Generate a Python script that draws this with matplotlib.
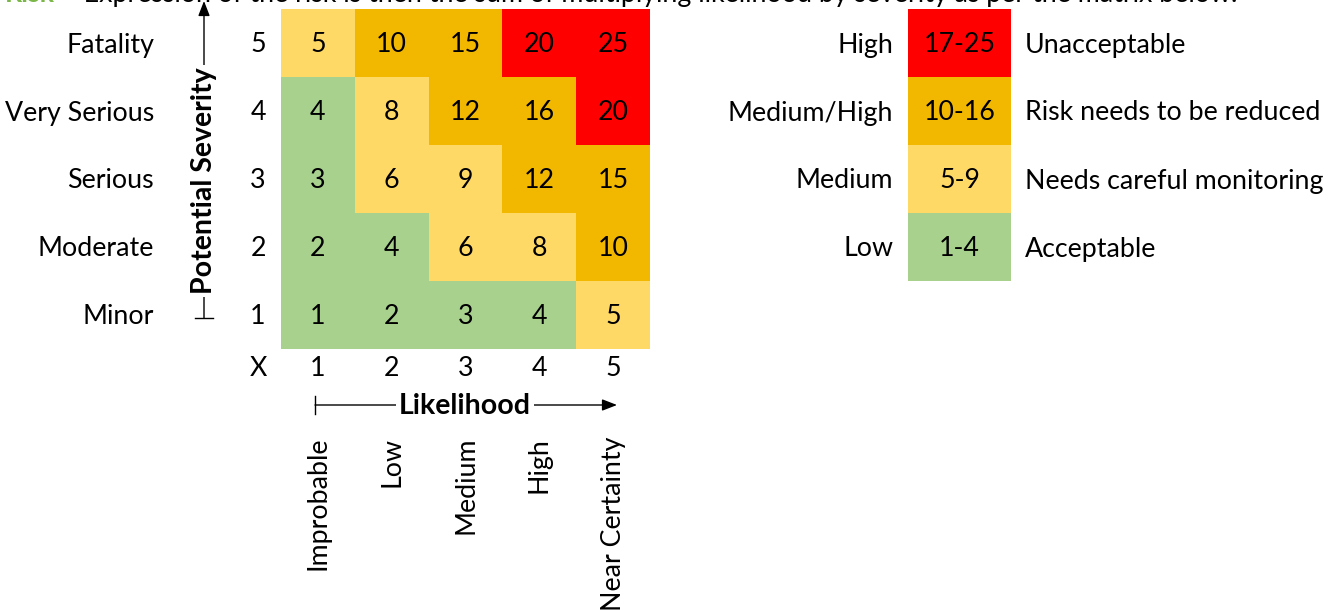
import matplotlib
matplotlib.use("Agg")
import matplotlib.pyplot as plt
from matplotlib.patches import Rectangle

plt.rcParams["font.family"] = ["Lato", "DejaVu Sans"]

# -- data --
severity_labels = ["Minor", "Moderate", "Serious", "Very Serious", "Fatality"]
severity_levels = [1, 2, 3, 4, 5]
likelihood_labels = ["Improbable", "Low", "Medium", "High", "Near Certainty"]
likelihood_levels = [1, 2, 3, 4, 5]

band_names = ["High", "Medium/High", "Medium", "Low"]
band_ranges = ["17-25", "10-16", "5-9", "1-4"]
band_low = [17, 10, 5, 1]
band_actions = ["Unacceptable", "Risk needs to be reduced",
                "Needs careful monitoring", "Acceptable"]
band_colors = ["#FF0000", "#F2B800", "#FFD966", "#A9D18E"]

title_lead = "Risk"
title_rest = " - Expression of the risk is then the sum of multiplying likelihood by severity as per the matrix below."


def band_color(v):
    for lo, c in zip(band_low, band_colors):
        if v >= lo:
            return c
    return band_colors[-1]


fig = plt.figure(figsize=(13.38, 6.10), dpi=100)
ax = fig.add_axes([0, 0, 1, 1])
ax.set_xlim(0, 1338)
ax.set_ylim(610, 0)
ax.axis("off")

fs = 19.3
fsb = 20.5
# grid geometry (pixels)
x0, cw = 281, 73.8
y_top, ch = 9, 68
dy = 2  # text sits a touch below the cell middle

def cell_x(i):
    return x0 + i * cw

def cell_y(s):
    # s = severity level 1..5, top row is 5
    return y_top + (5 - s) * ch

for s, slabel in zip(severity_levels, severity_labels):
    yc = cell_y(s) + ch / 2 + dy
    ax.text(154, yc, slabel, ha="right", va="center", fontsize=fs)
    ax.text(258, yc, str(s), ha="center", va="center", fontsize=fs)
    for i, l in enumerate(likelihood_levels):
        v = l * s
        ax.add_patch(Rectangle((cell_x(i), cell_y(s)), cw, ch,
                               facecolor=band_color(v), edgecolor="none"))
        ax.text(cell_x(i) + cw / 2, yc, str(v), ha="center", va="center", fontsize=fs)

# bottom row of likelihood numbers
y_num = y_top + 5 * ch + 20
ax.text(258, y_num, "X", ha="center", va="center", fontsize=fs)
for i, (l, llabel) in enumerate(zip(likelihood_levels, likelihood_labels)):
    xc = cell_x(i) + cw / 2
    ax.text(xc, y_num, str(l), ha="center", va="center", fontsize=fs)
    ax.text(xc, 437, llabel, ha="center", va="top", rotation=90, fontsize=fs)

arrow = dict(arrowstyle="-|>,head_width=0.35,head_length=0.9",
             color="black", lw=1, shrinkA=0, shrinkB=0)

# likelihood arrow
ax.annotate("", xy=(617, 405), xytext=(315, 405), arrowprops=arrow)
ax.plot([315, 315], [396, 414], color="black", lw=1)
ax.text(465, 406, "Likelihood", ha="center", va="center", fontsize=fsb,
        fontweight="bold", bbox=dict(facecolor="white", edgecolor="none", pad=2))

# severity arrow
ax.annotate("", xy=(204, 1), xytext=(204, 318), arrowprops=arrow)
ax.plot([195, 213], [318, 318], color="black", lw=1)
ax.text(204, 181, "Potential Severity", ha="center", va="center", rotation=90,
        fontsize=fsb, fontweight="bold",
        bbox=dict(facecolor="white", edgecolor="none", pad=2))

# legend table
lx, lw_ = 908, 103
for k, (name, rng, act, col) in enumerate(zip(band_names, band_ranges, band_actions, band_colors)):
    yt = y_top + k * ch
    ax.add_patch(Rectangle((lx, yt), lw_, ch, facecolor=col, edgecolor="none"))
    ax.text(lx + lw_ / 2, yt + ch / 2 + dy, rng, ha="center", va="center", fontsize=fs)
    ax.text(893, yt + ch / 2 + dy, name, ha="right", va="center", fontsize=fs)
    ax.text(1025, yt + ch / 2 + dy, act, ha="left", va="center", fontsize=fs)

# heading, cut off at the top edge as in the source
ax.text(5, 2, title_lead, ha="left", va="baseline", fontsize=fs,
        fontweight="bold", color="#7AB648", clip_on=False)
ax.text(60, 2, title_rest, ha="left", va="baseline", fontsize=fs, clip_on=False)

fig.savefig("out.png", dpi=100)
